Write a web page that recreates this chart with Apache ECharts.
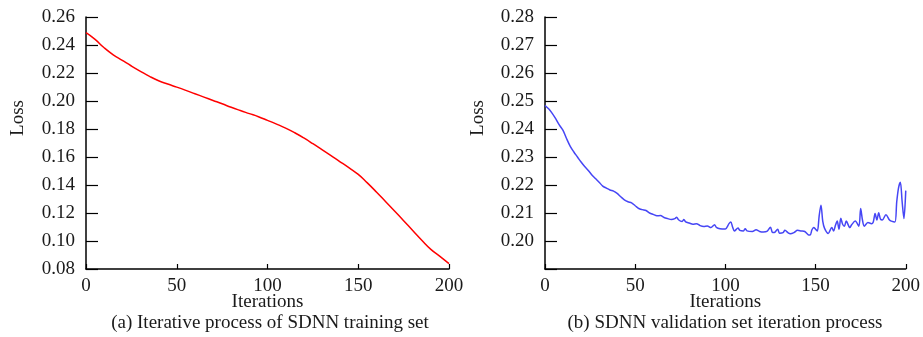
<!DOCTYPE html>
<html>
<head>
<meta charset="utf-8">
<script src="https://cdn.jsdelivr.net/npm/echarts@6/dist/echarts.min.js"></script>
<style>
  html, body { margin: 0; padding: 0; background: #fff; }
  #chart { width: 923px; height: 337px; }
</style>
</head>
<body>
<div id="chart"></div>
<script>
// (a) training set loss, every 5 iterations
const trainIterations = [0, 5, 10, 15, 20, 25, 30, 35, 40, 45, 50, 55, 60, 65, 70, 75, 80, 85, 90, 95, 100,
	105, 110, 115, 120, 125, 130, 135, 140, 145, 150, 155, 160, 165, 170, 175, 180, 185, 190, 195, 200]
const trainLoss = [0.2488, 0.2440, 0.2380, 0.2330, 0.2290, 0.2250, 0.2212, 0.2176, 0.2145, 0.2121, 0.2099,
	0.2076, 0.2052, 0.2028, 0.2004, 0.1980, 0.1955, 0.1932, 0.1910, 0.1888, 0.1862,
	0.1835, 0.1806, 0.1773, 0.1736, 0.1695, 0.1652, 0.1609, 0.1566, 0.1522, 0.1476,
	0.1415, 0.1350, 0.1282, 0.1214, 0.1145, 0.1075, 0.1005, 0.0940, 0.0890, 0.0838]

// (b) validation set loss
const valIterations = [0, 2, 4, 6, 8, 10, 12, 14, 16, 18, 20, 22, 24, 26, 28, 30, 32, 34, 36, 38, 40, 42, 44, 46, 48,
	50, 52, 54, 56, 58, 60, 62, 64, 66, 68, 70, 72, 73, 74, 76, 77, 78, 80, 82, 84, 86, 88, 90, 92, 94, 95, 97,
	100, 102, 103, 104, 105, 107, 108, 110, 111, 112, 115, 117, 119, 121, 123, 125, 126, 127, 129, 130, 132, 133,
	135, 136, 138, 140, 142, 144, 146, 147, 148, 149, 150, 151, 152, 153, 154, 155, 157, 159, 160, 161, 162, 163,
	164, 165, 166, 167, 169, 170, 172, 174, 175, 176, 177, 179, 181, 182, 183, 184, 185, 186, 187, 189, 191, 192,
	194, 195, 196, 197, 198, 199, 200]
const valLoss = [0.2484, 0.2472, 0.2456, 0.2436, 0.2414, 0.2395, 0.2365, 0.2338, 0.2318, 0.2300, 0.2282, 0.2266,
	0.2252, 0.2236, 0.2223, 0.2210, 0.2196, 0.2189, 0.2182, 0.2178, 0.2170, 0.2158, 0.2147, 0.2140, 0.2136,
	0.2126, 0.2116, 0.2112, 0.2109, 0.2100, 0.2095, 0.2090, 0.2091, 0.2084, 0.2080, 0.2077, 0.2080, 0.2085, 0.2076,
	0.2070, 0.2077, 0.2068, 0.2064, 0.2060, 0.2062, 0.2055, 0.2052, 0.2054, 0.2048, 0.2058, 0.2049, 0.2044,
	0.2043, 0.2062, 0.2068, 0.2050, 0.2036, 0.2046, 0.2038, 0.2036, 0.2044, 0.2036, 0.2034, 0.2040, 0.2034, 0.2032,
	0.2034, 0.2049, 0.2031, 0.2030, 0.2042, 0.2028, 0.2030, 0.2038, 0.2028, 0.2026, 0.2030, 0.2038, 0.2036, 0.2034,
	0.2022, 0.2021, 0.2040, 0.2048, 0.2042, 0.2036, 0.2090, 0.2128, 0.2070, 0.2045, 0.2027, 0.2048, 0.2036, 0.2055,
	0.2071, 0.2042, 0.2081, 0.2060, 0.2053, 0.2071, 0.2048, 0.2058, 0.2071, 0.2053, 0.2116, 0.2075, 0.2053, 0.2066,
	0.2062, 0.2068, 0.2098, 0.2075, 0.2101, 0.2078, 0.2075, 0.2094, 0.2075, 0.2071,
	0.2068, 0.2140, 0.2190, 0.2210, 0.2140, 0.2080, 0.2180]

const font = '"Liberation Serif", "Times New Roman", serif'
const textColor = '#1a1a1a'
const fontSize = 19

const chart = echarts.init(document.getElementById('chart'), null, { renderer: 'canvas' })

function xAxisFor(gridIndex) {
	return {
		type: 'value',
		gridIndex,
		min: 0,
		max: 200,
		interval: 50,
		name: 'Iterations',
		nameLocation: 'middle',
		nameGap: 24,
		nameMoveOverlap: false,
		nameTextStyle: { fontFamily: font, fontSize, color: textColor },
		axisLine: { lineStyle: { color: '#000', width: 1.5 } },
		axisTick: { inside: true, length: 5, lineStyle: { color: '#000', width: 1.2 } },
		axisLabel: { fontFamily: font, fontSize, color: textColor, margin: 8 },
		splitLine: { show: false }
	}
}

function yAxisFor(gridIndex, min, max, interval, hideBelow) {
	return {
		type: 'value',
		gridIndex,
		min,
		max,
		interval,
		axisLine: { show: true, lineStyle: { color: '#000', width: 1.5 } },
		axisTick: { show: true, inside: true, length: 12, lineStyle: { color: '#000', width: 1.2 } },
		axisLabel: {
			fontFamily: font,
			fontSize,
			color: textColor,
			margin: 11,
			formatter: (v) => (v < hideBelow ? '' : v.toFixed(2))
		},
		splitLine: { show: false }
	}
}

const option = {
	animation: false,
	backgroundColor: '#fff',
	grid: [
		{ left: 86, right: 474, top: 17, bottom: 68 },
		{ left: 545, right: 15, top: 17, bottom: 68 }
	],
	xAxis: [xAxisFor(0), xAxisFor(1)],
	yAxis: [yAxisFor(0, 0.08, 0.26, 0.02, 0), yAxisFor(1, 0.19, 0.28, 0.01, 0.195)],
	series: [
		{
			type: 'line',
			xAxisIndex: 0,
			yAxisIndex: 0,
			smooth: 0.5,
			symbol: 'none',
			lineStyle: { color: '#ff0000', width: 1.5 },
			data: trainIterations.map((x, i) => [x, trainLoss[i]])
		},
		{
			type: 'line',
			xAxisIndex: 1,
			yAxisIndex: 1,
			smooth: 0.3,
			symbol: 'none',
			lineStyle: { color: '#4646f5', width: 1.5 },
			data: valIterations.map((x, i) => [x, valLoss[i]])
		}
	],
	graphic: [
		{
			type: 'text',
			x: 18,
			y: 118,
			rotation: Math.PI / 2,
			style: { text: 'Loss', font: `${fontSize}px ${font}`, fill: textColor, textAlign: 'center', textVerticalAlign: 'middle' }
		},
		{
			type: 'text',
			x: 478,
			y: 118,
			rotation: Math.PI / 2,
			style: { text: 'Loss', font: `${fontSize}px ${font}`, fill: textColor, textAlign: 'center', textVerticalAlign: 'middle' }
		},
		{
			type: 'text',
			x: 270,
			y: 323,
			style: {
				text: '(a) Iterative process of SDNN training set',
				font: `${fontSize}px ${font}`,
				fill: textColor,
				textAlign: 'center',
				textVerticalAlign: 'middle'
			}
		},
		{
			type: 'text',
			x: 725,
			y: 323,
			style: {
				text: '(b) SDNN validation set iteration process',
				font: `${fontSize}px ${font}`,
				fill: textColor,
				textAlign: 'center',
				textVerticalAlign: 'middle'
			}
		}
	]
}

chart.setOption(option)
</script>
</body>
</html>
